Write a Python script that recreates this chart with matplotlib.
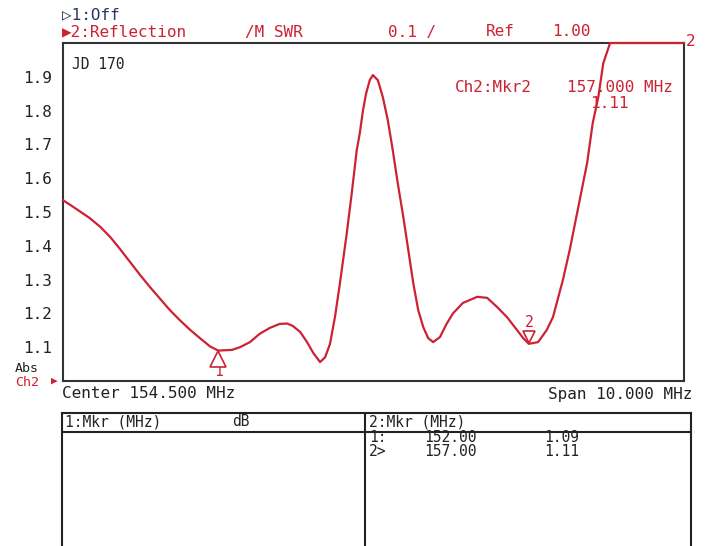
import matplotlib
matplotlib.use('Agg')
import matplotlib.pyplot as plt
import matplotlib.transforms as mtransforms

# trace (MHz, SWR)
freq = [149.50, 149.69, 149.93, 150.10, 150.26, 150.42, 150.58, 150.74, 150.90,
        151.06, 151.22, 151.38, 151.55, 151.71, 151.87, 152.00, 152.22, 152.35,
        152.51, 152.67, 152.83, 152.99, 153.11, 153.20, 153.32, 153.43, 153.53,
        153.64, 153.72, 153.80, 153.88, 153.96, 154.07, 154.15, 154.23, 154.28,
        154.33, 154.38, 154.44, 154.49, 154.57, 154.65, 154.73, 154.81, 154.89,
        154.98, 155.06, 155.14, 155.22, 155.30, 155.38, 155.46, 155.57, 155.68,
        155.78, 155.94, 156.17, 156.33, 156.49, 156.65, 156.81, 156.91, 157.00,
        157.15, 157.29, 157.39, 157.55, 157.66, 157.83, 157.94, 158.03, 158.12,
        158.20, 158.31, 159.50]
swr = [1.535, 1.512, 1.482, 1.456, 1.426, 1.390, 1.352, 1.314, 1.278,
       1.244, 1.210, 1.180, 1.151, 1.126, 1.102, 1.090, 1.092, 1.100,
       1.115, 1.140, 1.157, 1.169, 1.170, 1.163, 1.145, 1.115, 1.083,
       1.056, 1.070, 1.110, 1.190, 1.290, 1.438, 1.556, 1.683, 1.734,
       1.800, 1.850, 1.890, 1.905, 1.890, 1.840, 1.772, 1.683, 1.586,
       1.485, 1.388, 1.290, 1.210, 1.160, 1.127, 1.115, 1.130, 1.170,
       1.200, 1.231, 1.249, 1.246, 1.219, 1.189, 1.151, 1.127, 1.110,
       1.115, 1.151, 1.189, 1.299, 1.388, 1.544, 1.645, 1.763, 1.840,
       1.940, 2.000, 2.000]

mkr_freq = [152.00, 157.00]
mkr_val = [1.09, 1.11]
yticks = [1.1, 1.2, 1.3, 1.4, 1.5, 1.6, 1.7, 1.8, 1.9]

RED = '#cc2233'
INK = '#222222'
MONO = ['DejaVu Sans Mono', 'DejaVu Sans']
FS = 11.5

fig = plt.figure(figsize=(7.14, 5.46), dpi=100)
W, H = 714.0, 546.0

def fx(px):
    return px / W

def fy(py):
    return 1 - py / H

ax = fig.add_axes([fx(63), fy(381), 621 / W, 338 / H])
ax.plot(freq, swr, color=RED, lw=1.6, zorder=3, clip_on=False,
        solid_joinstyle='round')
ax.set_xlim(149.5, 159.5)
ax.set_ylim(1.0, 2.0)
ax.set_xticks([])
ax.set_yticks(yticks)
ax.set_yticklabels(['%.1f' % t for t in yticks], family=MONO, fontsize=FS, color=INK)
ax.tick_params(axis='y', length=0, pad=8)
for s in ax.spines.values():
    s.set_color('#333333')
    s.set_linewidth(1.5)

# marker 1: open up-triangle under the trace, label below
tr1 = mtransforms.offset_copy(ax.transData, fig=fig, x=0, y=-6, units='points')
ax.plot([mkr_freq[0]], [mkr_val[0]], marker='^', ms=11, mfc='white', mec=RED,
        mew=1.2, transform=tr1, zorder=4, clip_on=False)
ax.annotate('1', (mkr_freq[0], mkr_val[0]), xytext=(0, -15), textcoords='offset points',
            ha='center', va='center', color=RED, family=MONO, fontsize=FS - 1)
# marker 2: small down-triangle above trace, label on top
tr2 = mtransforms.offset_copy(ax.transData, fig=fig, x=0, y=5, units='points')
ax.plot([mkr_freq[1]], [mkr_val[1]], marker='v', ms=8, mfc='white', mec=RED,
        mew=1.2, transform=tr2, zorder=4)
ax.annotate('2', (mkr_freq[1], mkr_val[1]), xytext=(0, 15), textcoords='offset points',
            ha='center', va='center', color=RED, family=MONO, fontsize=FS - 1)

ax.text(0.015, 0.935, 'JD 170', transform=ax.transAxes, family=MONO,
        fontsize=FS - 1, color=INK, va='center')

def t(px, py, s, color=INK, ha='left', size=FS):
    fig.text(fx(px), fy(py), s, color=color, ha=ha, va='center',
             family=MONO, fontsize=size)

# header lines
t(62, 15, '\u25b71:Off', color='#2a3560')
t(62, 32, '\u25b62:Reflection', color=RED)
t(245, 32, '/M SWR', color=RED)
t(388, 32, '0.1 /', color=RED)
t(486, 32, 'Ref', color=RED)
t(552, 32, '1.00', color=RED)
t(686, 42, '2', color=RED)
t(455, 88, 'Ch2:Mkr2', color=RED)
t(567, 88, '157.000 MHz', color=RED)
t(590, 103, '1.11', color=RED)

# left bottom labels
t(15, 368, 'Abs', size=9.5)
t(15, 383, 'Ch2', color=RED, size=9.5)
t(51, 381, '\u25b6', color=RED, size=8)
t(62, 394, 'Center 154.500 MHz')
t(692, 394, 'Span 10.000 MHz', ha='right')

# marker table
tab = fig.add_axes([fx(62), -0.01, 629 / W, (H - 413) / H + 0.01])
tab.set_xticks([])
tab.set_yticks([])
tab.set_xlim(0, 1)
tab.set_ylim(0, 1)
tab.spines['bottom'].set_visible(False)
for s in tab.spines.values():
    s.set_color(INK)
    s.set_linewidth(1.5)
tab.axvline((365 - 62) / 629.0, color=INK, lw=1.5)
tab.axhline(1 - (432 - 413) / (H - 413 + 0.01 * H), color=INK, lw=1.5)

TS = 10.5
t(65, 422, '1:Mkr (MHz)', size=TS)
t(232, 422, 'dB', size=TS)
t(369, 422, '2:Mkr (MHz)', size=TS)
t(369, 438, '1:', size=TS)
t(424, 438, '%.2f' % mkr_freq[0], size=TS)
t(544, 438, '%.2f' % mkr_val[0], size=TS)
t(369, 452, '2>', size=TS)
t(424, 452, '%.2f' % mkr_freq[1], size=TS)
t(544, 452, '%.2f' % mkr_val[1], size=TS)

fig.savefig('out.png', dpi=100)
